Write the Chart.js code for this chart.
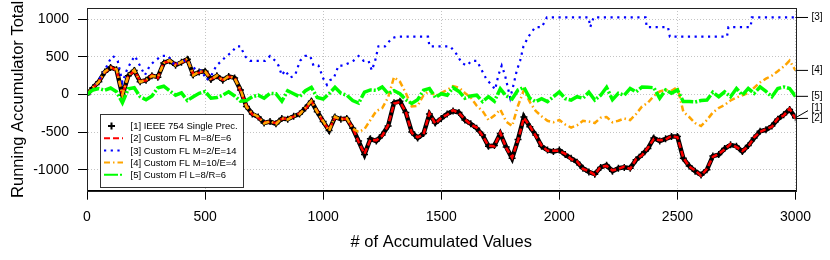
<!DOCTYPE html>
<html lang="en">
<head>
<meta charset="UTF-8">
<title>Running Accumulator Total</title>
<script src="https://cdn.jsdelivr.net/npm/chart.js@4.4.0/dist/chart.umd.min.js"></script>
<style>
  body { margin: 0; background: #fff; }
  #wrap { width: 830px; height: 260px; }
</style>
</head>
<body>
<div id="wrap"><canvas id="acc" width="830" height="260"></canvas></div>
<script>
// sample positions (# of accumulated values) for series 1, 2, 4, 5
const steps = [
  0, 25, 50, 75, 100, 125, 150, 175, 200, 225,
  250, 275, 300, 325, 350, 375, 400, 425, 450, 475,
  500, 525, 550, 575, 600, 625, 650, 675, 700, 725,
  750, 775, 800, 825, 850, 875, 900, 925, 950, 975,
  1000, 1025, 1050, 1075, 1100, 1125, 1150, 1175, 1200, 1225,
  1250, 1275, 1300, 1325, 1350, 1375, 1400, 1425, 1450, 1475,
  1500, 1525, 1550, 1575, 1600, 1625, 1650, 1675, 1700, 1725,
  1750, 1775, 1800, 1825, 1850, 1875, 1900, 1925, 1950, 1975,
  2000, 2025, 2050, 2075, 2100, 2125, 2150, 2175, 2200, 2225,
  2250, 2275, 2300, 2325, 2350, 2375, 2400, 2425, 2450, 2475,
  2500, 2525, 2550, 2575, 2600, 2625, 2650, 2675, 2700, 2725,
  2750, 2775, 2800, 2825, 2850, 2875, 2900, 2925, 2950, 2975,
  3000
];

// [1] IEEE 754 single precision
const ieee754 = [
  0, 90, 170, 300, 360, 330, -10, 250, 320, 170,
  190, 250, 230, 420, 450, 390, 430, 470, 260, 300,
  310, 200, 250, 190, 240, 220, 60, -160, -260, -300,
  -380, -360, -390, -320, -330, -290, -260, -180, -90, -230,
  -360, -480, -300, -330, -320, -450, -620, -800, -590, -620,
  -540, -420, -110, -90, -240, -500, -580, -520, -260, -380,
  -320, -260, -220, -240, -340, -390, -450, -540, -690, -680,
  -520, -700, -850, -600, -300, -430, -540, -690, -740, -760,
  -740, -800, -850, -900, -980, -1030, -1060, -970, -940, -1020,
  -980, -970, -980, -870, -800, -720, -580, -620, -590, -560,
  -560, -850, -950, -1020, -1070, -1000, -820, -800, -720, -670,
  -690, -760, -680, -580, -490, -470, -420, -330, -270, -200,
  -310
];

// [2] custom FL M=8/E=6
const flM8E6 = [
  0, 85, 175, 290, 365, 320, 0, 240, 315, 180,
  185, 255, 220, 425, 440, 400, 425, 465, 270, 290,
  315, 205, 240, 195, 235, 225, 50, -150, -265, -310,
  -370, -365, -380, -325, -320, -295, -250, -190, -95, -220,
  -370, -470, -310, -320, -330, -440, -630, -790, -600, -610,
  -550, -410, -120, -100, -230, -510, -570, -530, -250, -390,
  -310, -270, -210, -250, -330, -400, -440, -550, -680, -690,
  -510, -710, -840, -610, -310, -420, -550, -680, -750, -750,
  -750, -790, -860, -890, -990, -1020, -1070, -960, -950, -1010,
  -990, -960, -990, -860, -810, -710, -590, -610, -600, -550,
  -570, -840, -960, -1010, -1080, -990, -830, -790, -730, -660,
  -700, -750, -690, -570, -500, -460, -430, -320, -280, -190,
  -320
];

// [4] custom FL M=10/E=4
const flM10E4 = [
  0, 95, 165, 305, 355, 335, -5, 255, 325, 165,
  195, 245, 235, 415, 455, 385, 435, 475, 255, 305,
  305, 195, 255, 185, 245, 215, 65, -165, -255, -295,
  -385, -355, -395, -315, -335, -285, -265, -175, -85, -235,
  -355, -485, -295, -335, -315, -455, -500, -460, -340, -220,
  -180, -40, 230, 170, 20, -160, -150, -10, 50, -20,
  20, 60, 110, 90, 20, -40, -150, -220, -340, -280,
  -200, -360, -420, -150, 60, -100, -220, -290, -350, -370,
  -340, -400, -440, -410, -350, -360, -380, -310, -300, -370,
  -350, -320, -340, -260, -160, -110, -20, 40, 60, 50,
  100, -230, -300, -380, -420, -340, -240, -180, -140, -80,
  -40, -10, 20, 90, 160, 210, 250, 310, 370, 450,
  320
];

// [5] custom FI L=8/R=6
const fiL8R6 = [
  0, 60, 80, 55, 85, 35, -110, 75, 90, -30,
  -70, -20, 90, 110, 50, -10, 20, -80, -30, 15,
  40, -50, -40, -10, 35, -20, -90, -80, -30, -10,
  -50, 15, 10, -90, 50, 10, -30, 50, 95, -40,
  -60, 10, 95, 15, -10, -80, -115, 30, 60, 55,
  100, 10, 50, 10, -70, -120, -70, 55, 80, -40,
  10, -10, 90, 40, -50, -20, -10, -95, -30, -90,
  75, -20, -60, 60, 95, -50, -95, -55, -95, -30,
  35, -55, -75, -30, -50, 30, -75, -10, 95, -70,
  15, -10, 80, 35, 100, 95, 90, -50, 60, 15,
  60, -95, -95, -100, -80, -75, 30, -30, 35, -30,
  80, -10, 80, 15, 100, 40, -30, 80, 100, 80,
  -25
];

// [3] custom FL M=2/E=14 (coarse steps, own sample positions)
const flM2E14X = [
  0, 25, 50, 75, 95, 110, 130, 150, 168, 189, 203, 224, 245, 266, 288, 316,
  344, 372, 400, 421, 443, 464, 485, 506, 527, 548, 570, 591, 612, 633, 650,
  668, 690, 711, 733, 754, 775, 797, 811, 825, 839, 860, 881, 902, 924, 945,
  959, 980, 1001, 1016, 1030, 1044, 1065, 1086, 1107, 1128, 1150, 1171, 1192,
  1206, 1220, 1234, 1262, 1291, 1312, 1444, 1450, 1537, 1560, 1587, 1608, 1629,
  1651, 1672, 1693, 1714, 1728, 1742, 1756, 1770, 1792, 1806, 1820, 1834, 1848,
  1869, 1898, 1926, 1947, 2124, 2131, 2145, 2365, 2370, 2460, 2468, 2710, 2716,
  2810, 2815, 3000
];
const flM2E14 = [
  0, 64, 192, 320, 448, 512, 448, 160, 320, 448, 512, 384, 256, 384, 448, 512,
  512, 384, 448, 448, 384, 320, 320, 192, 256, 384, 448, 512, 560, 640, 640,
  512, 448, 448, 448, 448, 512, 448, 384, 256, 320, 224, 256, 448, 512, 512,
  384, 384, 208, 128, 192, 208, 384, 384, 416, 448, 512, 448, 448,
  320, 448, 640, 640, 750, 768, 768, 640, 640, 560, 420, 384, 448,
  448, 320, 192, 128, 64, 256, 384, 256, -48, 128, 320, 448, 640,
  768, 896, 896, 1024, 1024, 896, 1024, 1024, 896, 896, 768, 768, 896,
  896, 1024, 1024
];

const seriesNames = [
  '[1] IEEE 754 Single Prec.',
  '[2] Custom FL M=8/E=6',
  '[3] Custom FL M=2/E=14',
  '[4] Custom FL M=10/E=4',
  '[5] Custom Fl L=8/R=6'
];
const seriesColors = ['#000000', '#ff0000', '#0000ff', '#ffa500', '#00ff00'];

const xTicks = [0, 500, 1000, 1500, 2000, 2500, 3000];
const yTicks = [-1000, -500, 0, 500, 1000];

// right-margin tags: which value each tag points to
const tagText = ['[1]', '[2]', '[3]', '[4]', '[5]'];
const tagAt = [-215, -318, 1024, 320, -25];

const FONT = '"Liberation Sans", Arial, Helvetica, sans-serif';

function pts(xs, ys) {
  return xs.map((x, i) => ({ x: x, y: ys[i] }));
}

const frame = {
  id: 'frame',
  afterDraw(chart) {
    const { ctx, chartArea: a } = chart;
    ctx.save();
    ctx.strokeStyle = '#222';
    ctx.lineWidth = 1;
    ctx.strokeRect(Math.round(a.left) + 0.5, Math.round(a.top) + 0.5,
      Math.round(a.right - a.left), Math.round(a.bottom - a.top));
    ctx.restore();
  }
};

const legendBox = {
  id: 'legendBox',
  afterDatasetsDraw(chart) {
    const ctx = chart.ctx;
    const x0 = 100.5, y0 = 114.5, w = 143, h = 73;
    ctx.save();
    ctx.fillStyle = '#fff';
    ctx.fillRect(x0, y0, w, h);
    ctx.strokeStyle = '#333';
    ctx.lineWidth = 1;
    ctx.strokeRect(x0, y0, w, h);
    ctx.font = '9.5px ' + FONT;
    ctx.textBaseline = 'middle';
    ctx.textAlign = 'left';
    seriesNames.forEach((name, i) => {
      const yy = 126 + i * 12.2;
      const ds = chart.data.datasets[i];
      ctx.strokeStyle = seriesColors[i];
      if (i === 0) {
        ctx.setLineDash([]);
        ctx.lineWidth = 2;
        ctx.beginPath();
        ctx.moveTo(108, yy); ctx.lineTo(115, yy);
        ctx.moveTo(111.5, yy - 3.5); ctx.lineTo(111.5, yy + 3.5);
        ctx.stroke();
      } else {
        ctx.setLineDash(ds.borderDash);
        ctx.lineWidth = 2;
        ctx.beginPath();
        ctx.moveTo(104, yy); ctx.lineTo(123, yy);
        ctx.stroke();
      }
      ctx.setLineDash([]);
      ctx.fillStyle = '#000';
      ctx.fillText(name, 130.5, yy + 0.5);
    });
    ctx.restore();
  }
};

const endTags = {
  id: 'endTags',
  afterDraw(chart) {
    const { ctx, chartArea: a } = chart;
    const ys = chart.scales.y;
    ctx.save();
    ctx.strokeStyle = '#000';
    ctx.lineWidth = 1;
    ctx.font = '10px ' + FONT;
    ctx.fillStyle = '#000';
    ctx.textBaseline = 'middle';
    tagText.forEach((t, i) => {
      const d = chart.data.datasets[i].data;
      const from = ys.getPixelForValue(d[d.length - 1].y);
      const to = ys.getPixelForValue(tagAt[i]);
      ctx.beginPath();
      ctx.moveTo(a.right, from);
      ctx.lineTo(a.right + 12.5, to);
      ctx.stroke();
      ctx.fillText(t, a.right + 16, to - (i === 0 ? 2 : 0.5));
    });
    ctx.restore();
  }
};

new Chart(document.getElementById('acc'), {
  type: 'line',
  data: {
    datasets: [
      {
        label: seriesNames[0], data: pts(steps, ieee754), order: 5,
        borderColor: seriesColors[0], borderWidth: 4.5, borderDash: [],
        pointStyle: 'cross', pointRadius: 3.5, pointBorderWidth: 1.5,
        pointBorderColor: '#000', pointBackgroundColor: '#000'
      },
      {
        label: seriesNames[1], data: pts(steps, flM8E6), order: 4,
        borderColor: seriesColors[1], borderWidth: 2.5, borderDash: [6, 3], pointRadius: 0
      },
      {
        label: seriesNames[2], data: pts(flM2E14X, flM2E14), order: 3,
        borderColor: seriesColors[2], borderWidth: 2.2, borderDash: [2.2, 4.5], pointRadius: 0
      },
      {
        label: seriesNames[3], data: pts(steps, flM10E4), order: 2,
        borderColor: seriesColors[3], borderWidth: 2.5, borderDash: [6, 3, 1.5, 3], pointRadius: 0
      },
      {
        label: seriesNames[4], data: pts(steps, fiL8R6), order: 1,
        borderColor: seriesColors[4], borderWidth: 3.5, borderDash: [14, 2, 2, 2], pointRadius: 0
      }
    ]
  },
  options: {
    responsive: false,
    animation: false,
    layout: { padding: { top: 8, right: 34.5, bottom: 0, left: 0 } },
    plugins: { legend: { display: false }, tooltip: { enabled: false } },
    elements: { line: { tension: 0 } },
    scales: {
      x: {
        type: 'linear', min: 0, max: 3000,
        afterBuildTicks(s) { s.ticks = xTicks.map(v => ({ value: v })); },
        ticks: { color: '#000', font: { family: FONT, size: 14 }, padding: 9, maxRotation: 0,
          callback: v => String(v) },
        grid: { color: '#c4c4c4', tickColor: '#000', tickLength: 9, tickWidth: 1, tickBorderDash: [] },
        border: { color: '#000', dash: [1, 2] },
        title: { display: true, text: '# of Accumulated Values', color: '#000',
          font: { family: FONT, size: 16.5 }, padding: { top: 0, bottom: 8 } },
        afterFit(s) { s.height = 69.3; s.paddingLeft = 0; s.paddingRight = 0; }
      },
      y: {
        min: -1280, max: 1150,
        afterBuildTicks(s) { s.ticks = yTicks.map(v => ({ value: v })); },
        ticks: { color: '#000', font: { family: FONT, size: 14 }, padding: 9,
          callback: v => String(v) },
        grid: { color: '#c4c4c4', tickColor: '#000', tickLength: 9, tickWidth: 1, tickBorderDash: [] },
        border: { color: '#000', dash: [1, 2] },
        title: { display: true, text: 'Running Accumulator Total', color: '#000',
          font: { family: FONT, size: 16.5 }, padding: { top: 8.4, bottom: 0 } },
        afterFit(s) { s.width = 87; s.paddingTop = 0; s.paddingBottom = 0; }
      }
    }
  },
  plugins: [frame, legendBox, endTags]
});
</script>
</body>
</html>
